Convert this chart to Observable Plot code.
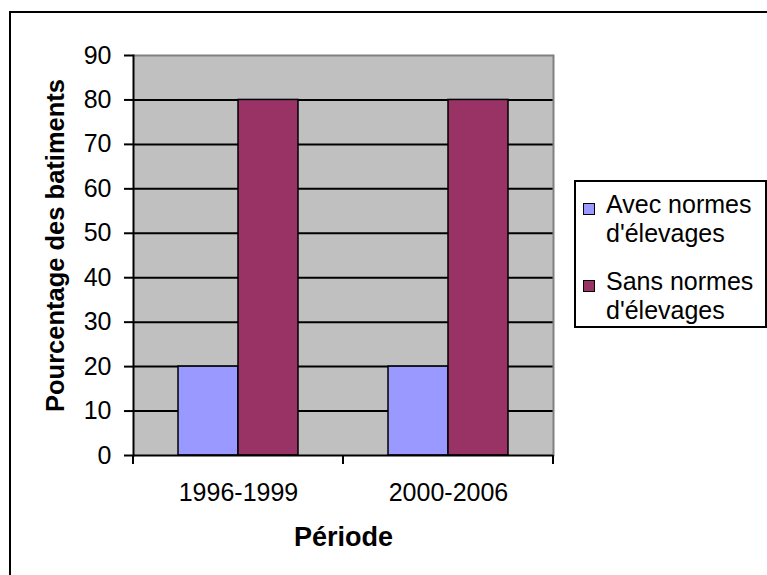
<!DOCTYPE html>
<html>
<head>
<meta charset="utf-8">
<script src="https://cdn.jsdelivr.net/npm/d3@7"></script>
<script src="https://cdn.jsdelivr.net/npm/@observablehq/plot@0.6"></script>
<style>
  body { margin: 0; background: #fff; }
  #wrap { position: relative; width: 767px; height: 575px; overflow: hidden; background: #fff;
          font-family: "Liberation Sans", Arial, sans-serif; color: #000; }
  #chart { position: absolute; left: 0; top: 0; }
  #border { position: absolute; left: 9px; top: 11px; width: 800px; height: 600px;
            border-left: 2px solid #000; border-top: 2px solid #000; pointer-events: none; }
  #legend { position: absolute; left: 574px; top: 180px; width: 193px; height: 148px; box-sizing: border-box;
            border: 2px solid #000; background: #fff; padding: 8px 0 0 7px; }
  .item { display: flex; align-items: flex-start; margin-bottom: 20px; }
  .sw { width: 12px; height: 12px; box-sizing: border-box; border: 1.5px solid #000; margin-top: 13px; flex: none; }
  .lbl { font-size: 25px; line-height: 28.5px; margin-left: 11px; width: 158px; }
  svg [aria-label="y-axis label"] text { font-weight: bold; font-size: 25.5px; }
  svg [aria-label="fx-axis label"] text { font-weight: bold; font-size: 27px; }
</style>
</head>
<body>
<div id="wrap">
  <div id="chart"></div>
  <div id="border"></div>
  <div id="legend"></div>
</div>
<script>
const periods = ["1996-1999", "2000-2006"];
const series = ["Avec normes d'élevages", "Sans normes d'élevages"];
const avecNormes = [20, 20];
const sansNormes = [80, 80];
const yTicks = [0, 10, 20, 30, 40, 50, 60, 70, 80, 90];
const colors = ["#9999FF", "#993366"];
const yTitle = "Pourcentage des batiments";
const xTitle = "Période";

const data = periods.flatMap((p, i) => [
  {period: p, serie: series[0], value: avecNormes[i]},
  {period: p, serie: series[1], value: sansNormes[i]}
]);

const chart = Plot.plot({
  width: 767,
  height: 575,
  marginLeft: 133,
  marginRight: 214,
  marginTop: 55,
  marginBottom: 120,
  style: {fontFamily: "Liberation Sans, Arial, sans-serif", fontSize: "25px", color: "#000", background: "none"},
  fx: {domain: periods, padding: 0, label: xTitle},
  x: {domain: series, paddingInner: 0, paddingOuter: 0.75, axis: null},
  y: {domain: [0, 90], label: yTitle},
  color: {domain: series, range: colors},
  marks: [
    Plot.frame({fill: "#c0c0c0", stroke: "#c0c0c0", strokeWidth: 1, shapeRendering: "crispEdges"}),
    Plot.gridY(yTicks.filter(t => t > 0 && t < 90), {stroke: "#000", strokeOpacity: 1, strokeWidth: 2}),
    Plot.ruleY([90], {stroke: "#808080", strokeWidth: 2}),
    Plot.frame({anchor: "right", stroke: "#808080", strokeWidth: 2, facetAnchor: "right"}),
    Plot.barY(data, {fx: "period", x: "serie", y: "value", fill: "serie", stroke: "#000", strokeWidth: 1.5}),
    Plot.frame({anchor: "left", stroke: "#000", strokeWidth: 2, facetAnchor: "left"}),
    Plot.ruleY([0], {stroke: "#000", strokeWidth: 2}),
    Plot.axisY(yTicks, {tickSize: 9, tickPadding: 13, strokeWidth: 2, fontSize: 25,
      label: yTitle, labelAnchor: "center", labelOffset: 88, labelArrow: "none"}),
    Plot.axisFx({anchor: "bottom", tickSize: 0, tickPadding: 28, fontSize: 25,
      label: xTitle, labelAnchor: "center", labelOffset: 90, labelArrow: "none"})
  ]
});

// boundary tick marks on the category axis, from the fx scale
const fx = chart.scale("fx");
const ys = chart.scale("y");
const edges = periods.map(p => fx.apply(p)).concat([fx.apply(periods[periods.length - 1]) + fx.bandwidth]);
const y0 = ys.apply(0);
d3.select(chart).append("g").attr("aria-label", "fx-boundary-ticks")
  .selectAll("line").data(edges).join("line")
  .attr("x1", d => d).attr("x2", d => d)
  .attr("y1", y0).attr("y2", y0 + 9)
  .attr("stroke", "#000").attr("stroke-width", 2);

// the vertical title sits slightly above the frame centre in the reference
const yLab = d3.select(chart).select('[aria-label="y-axis label"]');
const prev = yLab.attr("transform") || "";
yLab.attr("transform", (prev + " translate(0,-10)").trim());

document.getElementById("chart").appendChild(chart);

// legend
const legend = d3.select("#legend");
series.forEach((s, i) => {
  const item = legend.append("div").attr("class", "item");
  item.append("div").attr("class", "sw").style("background", colors[i]);
  item.append("div").attr("class", "lbl").text(s);
});
</script>
</body>
</html>
